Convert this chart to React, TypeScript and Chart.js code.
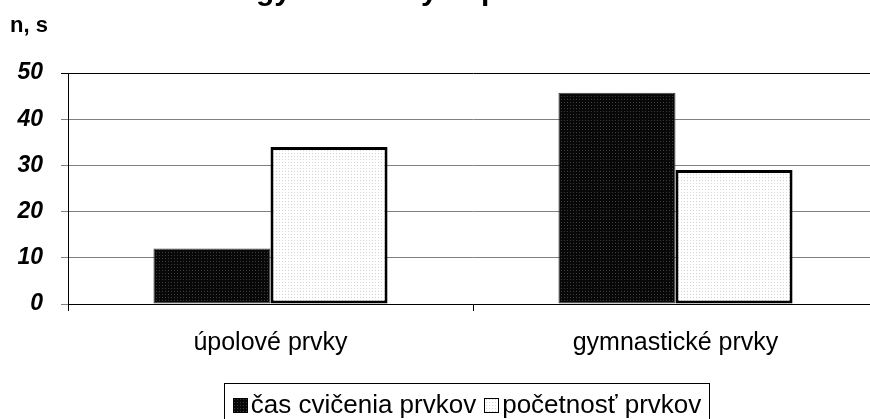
import React, { useEffect, useRef } from "react";
import { Chart, registerables } from "chart.js";

Chart.register(...registerables);

const categories = ["úpolové prvky", "gymnastické prvky"];
const seriesNames = ["čas cvičenia prvkov", "početnosť prvkov"];
const casValues = [12, 45.7];
const pocetnostValues = [34, 29];
const yTicks = [0, 10, 20, 30, 40, 50];
const yAxisTitle = "n, s";
const titleText = "gymnastických prvkov";

const FAMILY = "'Liberation Sans', Arial, sans-serif";

function makePattern(bg: string, dot: string, step: number): CanvasPattern | string {
  const c = document.createElement("canvas");
  c.width = step;
  c.height = step;
  const g = c.getContext("2d");
  if (!g) return bg;
  g.fillStyle = bg;
  g.fillRect(0, 0, step, step);
  g.fillStyle = dot;
  g.fillRect(0, 0, 1, 1);
  return g.createPattern(c, "repeat") || bg;
}

export default function App() {
  const ref = useRef<HTMLCanvasElement | null>(null);

  useEffect(() => {
    const canvas = ref.current;
    if (!canvas) return;
    const darkPat = makePattern("#080808", "#3c3c3c", 3);
    const lightPat = makePattern("#ffffff", "#d4d4d4", 3);

    const decor = {
      id: "decor",
      afterDraw(chart: any) {
        const ctx = chart.ctx as CanvasRenderingContext2D;
        ctx.save();
        ctx.fillStyle = "#000";
        ctx.textAlign = "left";
        ctx.textBaseline = "alphabetic";
        // title (only its bottom edge is visible)
        ctx.font = `bold 30px ${FAMILY}`;
        ctx.fillText(titleText, 256, 0);
        // y axis title
        ctx.font = `bold 22px ${FAMILY}`;
        ctx.fillText(yAxisTitle, 10, 32);
        // legend
        const boxL = 224, boxR = 710, boxT = 383, boxB = 430;
        ctx.strokeStyle = "#000";
        ctx.lineWidth = 1;
        ctx.strokeRect(boxL + 0.5, boxT + 0.5, boxR - boxL - 1, boxB - boxT);
        ctx.font = `26px ${FAMILY}`;
        const sq = 15;
        const gapIn = 3;
        const gapBetween = 8;
        const ds = chart.data.datasets;
        const widths = ds.map((d: any) => ctx.measureText(d.label).width);
        const total = widths.reduce((a: number, w: number) => a + sq + gapIn + w, 0) + gapBetween * (ds.length - 1);
        let x = (boxL + boxR) / 2 - total / 2;
        const baseline = 413;
        ds.forEach((d: any, i: number) => {
          const sx = Math.round(x);
          ctx.fillStyle = d.backgroundColor;
          ctx.fillRect(sx, baseline - sq, sq, sq);
          ctx.strokeStyle = "#000";
          ctx.lineWidth = 1;
          ctx.strokeRect(sx + 0.5, baseline - sq + 0.5, sq - 1, sq - 1);
          x += sq + gapIn;
          ctx.fillStyle = "#000";
          ctx.fillText(d.label, x, baseline);
          x += widths[i] + gapBetween;
        });
        ctx.restore();
      },
    };

    const chart = new Chart(canvas, {
      type: "bar",
      data: {
        labels: categories,
        datasets: [
          {
            label: seriesNames[0],
            data: casValues,
            backgroundColor: darkPat as any,
            borderColor: "#404040",
            borderWidth: 1,
            borderSkipped: false,
            categoryPercentage: 0.578,
            barPercentage: 1,
          },
          {
            label: seriesNames[1],
            data: pocetnostValues,
            backgroundColor: lightPat as any,
            borderColor: "#000",
            borderWidth: 3,
            borderSkipped: false,
            categoryPercentage: 0.578,
            barPercentage: 1,
          },
        ],
      },
      options: {
        responsive: false,
        animation: false,
        devicePixelRatio: 1,
        layout: { padding: { left: 0, top: 73, right: 4, bottom: 0 } },
        plugins: {
          legend: { display: false },
          title: { display: false },
          tooltip: { enabled: false },
        },
        scales: {
          x: {
            grid: {
              display: true,
              drawOnChartArea: false,
              drawTicks: true,
              tickLength: 7,
              color: "#000",
              offset: true,
            },
            border: { display: true, color: "#000", width: 1 },
            ticks: {
              font: { family: FAMILY, size: 25 },
              color: "#000",
              padding: 17,
              maxRotation: 0,
            },
            afterFit: (s: any) => {
              s.height = 115;
            },
          },
          y: {
            min: 0,
            max: 50,
            afterBuildTicks: (s: any) => {
              s.ticks = yTicks.map((v) => ({ value: v }));
            },
            ticks: {
              font: { family: FAMILY, size: 23, weight: "bold", style: "italic" },
              color: "#000",
              padding: 18,
            },
            grid: {
              color: (c: any) => (c.tick && c.tick.value === 50 ? "#000" : "#808080"),
              tickLength: 7,
              lineWidth: 1,
            },
            border: { display: true, color: "#000", width: 1 },
            afterFit: (s: any) => {
              s.width = 68;
            },
          },
        },
      },
      plugins: [decor],
    });
    return () => chart.destroy();
  }, []);

  return (
    <div style={{ position: "fixed", left: 0, top: 0, width: 870, height: 419, overflow: "hidden", background: "#fff" }}>
      <canvas ref={ref} width={882} height={419} style={{ width: 882, height: 419, display: "block" }} />
    </div>
  );
}
